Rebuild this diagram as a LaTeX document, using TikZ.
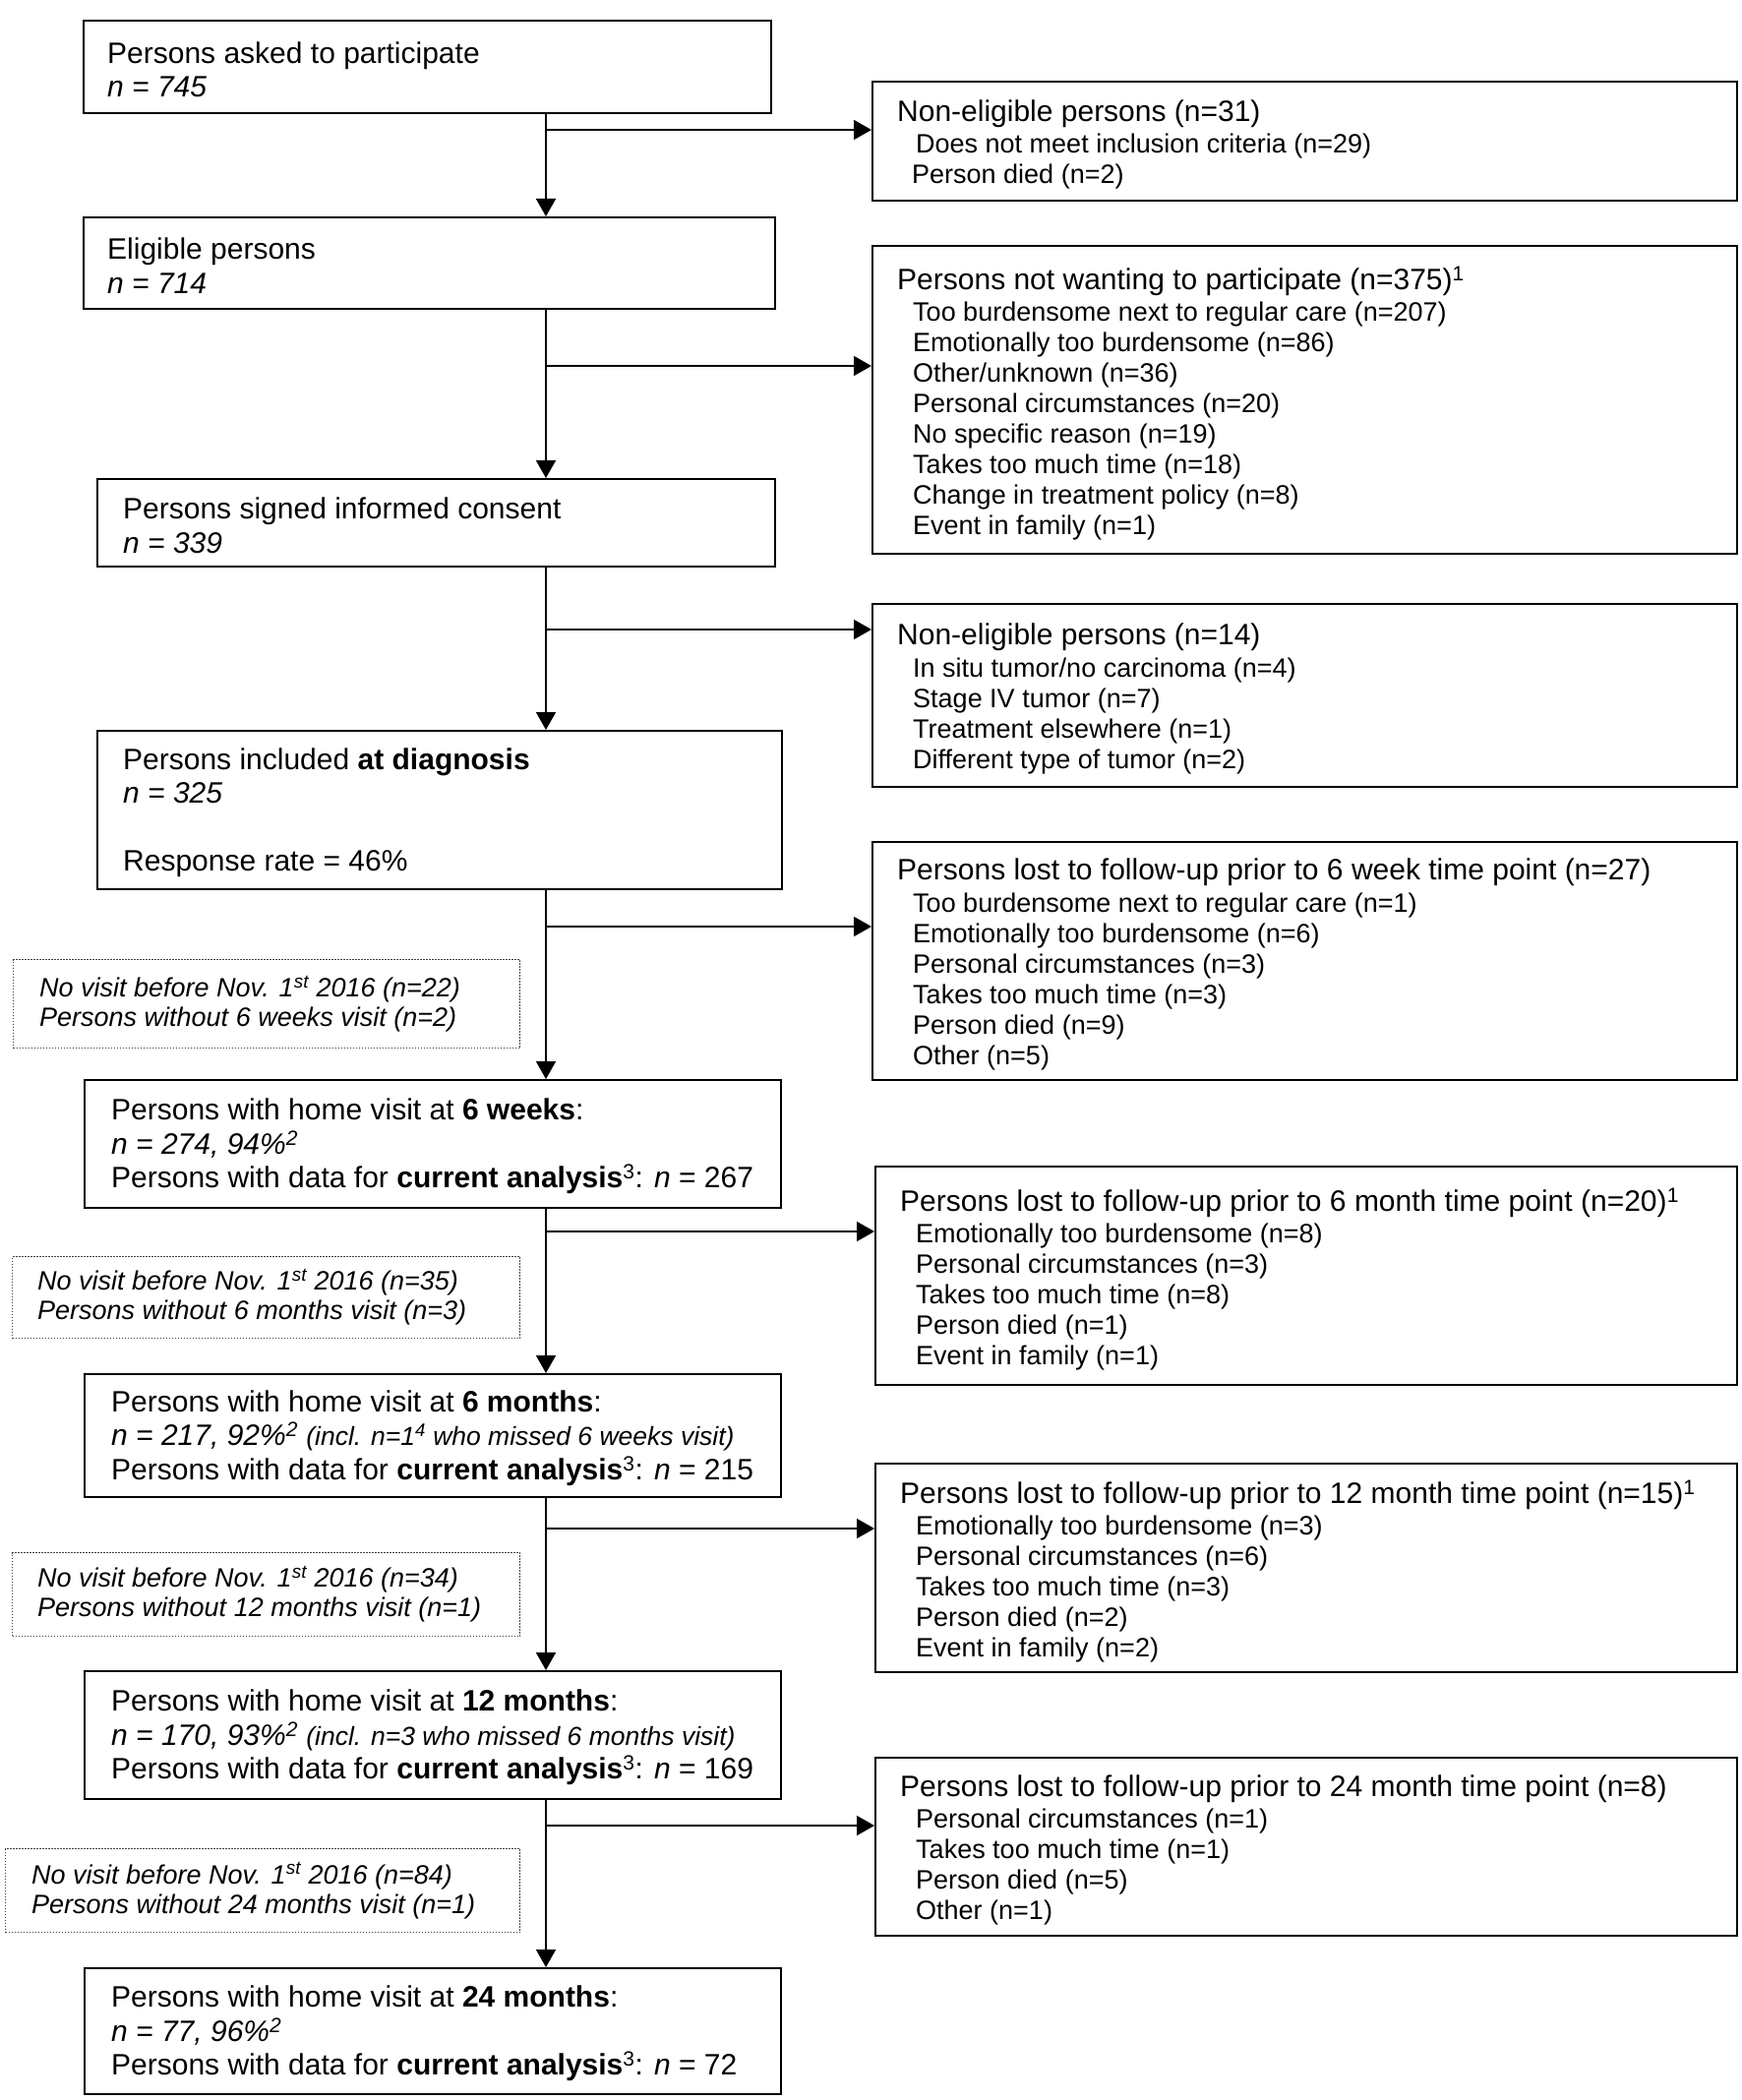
\documentclass[tikz,border=0pt]{standalone}
\usepackage{fontspec}
\setmainfont{Liberation Sans}
\usetikzlibrary{arrows.meta,calc}
\begin{document}
\begin{tikzpicture}[x=1pt,y=-1pt,
 lbox/.style={draw, line width=2.2pt, inner sep=0pt, anchor=north west},
 rbox/.style={draw, line width=1.9pt, inner sep=0pt, anchor=north west},
 dbox/.style={draw=black!75, line width=1.3pt, dash pattern=on 1.6pt off 1.4pt, inner sep=0pt, anchor=north west},
 ltext/.style={anchor=west, align=left, inner sep=0pt, yshift=-2.5pt, font=\fontsize{30}{34.5}\selectfont},
 rtext/.style={anchor=west, align=left, inner sep=0pt, yshift=-3.5pt, font=\fontsize{27}{31}\selectfont},
 dtext/.style={anchor=west, align=left, inner sep=0pt, font=\fontsize{27}{30}\selectfont\itshape},
 arr/.style={-{Triangle[length=18pt,width=20pt]}, line width=1.6pt},
]
\useasboundingbox (0,0) rectangle (1770,2135);
\newcommand{\hd}[1]{{\fontsize{30}{31}\selectfont #1}\\[1.5pt]}
\newcommand{\ind}{\hspace*{16pt}}
\newcommand{\incl}[1]{{\fontsize{26.5}{26.5}\selectfont #1}}

% ---------- left column ----------
\node[lbox, minimum width=699pt, minimum height=94pt] (L1) at (84,20) {};
\node[ltext] (L1t) at ([xshift=25pt]L1.west) {Persons asked to participate\\\textit{n = 745}};

\node[lbox, minimum width=703pt, minimum height=93pt] (L2) at (84,220) {};
\node[ltext] (L2t) at ([xshift=25pt]L2.west) {Eligible persons\\\textit{n = 714}};

\node[lbox, minimum width=689pt, minimum height=89pt] (L3) at (98,486) {};
\node[ltext] (L3t) at ([xshift=27pt]L3.west) {Persons signed informed consent\\\textit{n = 339}};

\node[lbox, minimum width=696pt, minimum height=161pt] (L4) at (98,742) {};
\node[ltext] (L4t) at ([xshift=27pt]L4.west) {Persons included \textbf{at diagnosis}\\\textit{n = 325}\\[34.5pt]Response rate = 46\%};

\node[lbox, minimum width=708pt, minimum height=130pt] (L5) at (85,1097) {};
\node[ltext] (L5t) at ([xshift=28pt]L5.west) {Persons with home visit at \textbf{6 weeks}:\\\textit{n = 274, 94\%\textsuperscript{2}}\\Persons with data for \textbf{current analysis}\textsuperscript{3}: \textit{n} = 267};

\node[lbox, minimum width=708pt, minimum height=125pt] (L6) at (85,1396) {};
\node[ltext] (L6t) at ([xshift=28pt]L6.west) {Persons with home visit at \textbf{6 months}:\\\textit{n = 217, 92\%\textsuperscript{2} \incl{(incl. n=1\textsuperscript{4} who missed 6 weeks visit)}}\\Persons with data for \textbf{current analysis}\textsuperscript{3}: \textit{n} = 215};

\node[lbox, minimum width=708pt, minimum height=130pt] (L7) at (85,1698) {};
\node[ltext] (L7t) at ([xshift=28pt]L7.west) {Persons with home visit at \textbf{12 months}:\\\textit{n = 170, 93\%\textsuperscript{2} \incl{(incl. n=3 who missed 6 months visit)}}\\Persons with data for \textbf{current analysis}\textsuperscript{3}: \textit{n} = 169};

\node[lbox, minimum width=708pt, minimum height=128pt] (L8) at (85,2000) {};
\node[ltext] (L8t) at ([xshift=28pt]L8.west) {Persons with home visit at \textbf{24 months}:\\\textit{n = 77, 96\%\textsuperscript{2}}\\Persons with data for \textbf{current analysis}\textsuperscript{3}: \textit{n} = 72};

% ---------- dotted boxes ----------
\node[dbox, minimum width=515pt, minimum height=90pt] (D1) at (13,975) {};
\node[dtext] (D1t) at ([xshift=27pt]D1.west) {No visit before Nov. 1\textsuperscript{st} 2016 (n=22)\\Persons without 6 weeks visit (n=2)};

\node[dbox, minimum width=516pt, minimum height=83pt] (D2) at (12,1277) {};
\node[dtext] (D2t) at ([xshift=26pt]D2.west) {No visit before Nov. 1\textsuperscript{st} 2016 (n=35)\\Persons without 6 months visit (n=3)};

\node[dbox, minimum width=516pt, minimum height=85pt] (D3) at (12,1578) {};
\node[dtext] (D3t) at ([xshift=26pt]D3.west) {No visit before Nov. 1\textsuperscript{st} 2016 (n=34)\\Persons without 12 months visit (n=1)};

\node[dbox, minimum width=523pt, minimum height=85pt] (D4) at (5,1879) {};
\node[dtext] (D4t) at ([xshift=27pt]D4.west) {No visit before Nov. 1\textsuperscript{st} 2016 (n=84)\\Persons without 24 months visit (n=1)};

% ---------- right column ----------
\node[rbox, minimum width=879pt, minimum height=121pt] (R1) at (886,82) {};
\node[rtext] (R1t) at ([xshift=26pt]R1.west) {\hd{Non-eligible persons (n=31)}\hspace*{19pt}Does not meet inclusion criteria (n=29)\\\hspace*{15pt}Person died (n=2)};

\node[rbox, minimum width=879pt, minimum height=313pt] (R2) at (886,249) {};
\node[rtext] (R2t) at ([xshift=26pt]R2.west) {\hd{Persons not wanting to participate (n=375)\textsuperscript{1}}\ind Too burdensome next to regular care (n=207)\\\ind Emotionally too burdensome (n=86)\\\ind Other/unknown (n=36)\\\ind Personal circumstances (n=20)\\\ind No specific reason (n=19)\\\ind Takes too much time (n=18)\\\ind Change in treatment policy (n=8)\\\ind Event in family (n=1)};

\node[rbox, minimum width=879pt, minimum height=186pt] (R3) at (886,613) {};
\node[rtext] (R3t) at ([xshift=26pt]R3.west) {\hd{Non-eligible persons (n=14)}\ind In situ tumor/no carcinoma (n=4)\\\ind Stage IV tumor (n=7)\\\ind Treatment elsewhere (n=1)\\\ind Different type of tumor (n=2)};

\node[rbox, minimum width=879pt, minimum height=242pt] (R4) at (886,855) {};
\node[rtext] (R4t) at ([xshift=26pt]R4.west) {\hd{Persons lost to follow-up prior to 6 week time point (n=27)}\ind Too burdensome next to regular care (n=1)\\\ind Emotionally too burdensome (n=6)\\\ind Personal circumstances (n=3)\\\ind Takes too much time (n=3)\\\ind Person died (n=9)\\\ind Other (n=5)};

\node[rbox, minimum width=876pt, minimum height=222pt] (R5) at (889,1185) {};
\node[rtext] (R5t) at ([xshift=26pt]R5.west) {\hd{Persons lost to follow-up prior to 6 month time point (n=20)\textsuperscript{1}}\ind Emotionally too burdensome (n=8)\\\ind Personal circumstances (n=3)\\\ind Takes too much time (n=8)\\\ind Person died (n=1)\\\ind Event in family (n=1)};

\node[rbox, minimum width=876pt, minimum height=212pt] (R6) at (889,1487) {};
\node[rtext] (R6t) at ([xshift=26pt]R6.west) {\hd{Persons lost to follow-up prior to 12 month time point (n=15)\textsuperscript{1}}\ind Emotionally too burdensome (n=3)\\\ind Personal circumstances (n=6)\\\ind Takes too much time (n=3)\\\ind Person died (n=2)\\\ind Event in family (n=2)};

\node[rbox, minimum width=876pt, minimum height=181pt] (R7) at (889,1786) {};
\node[rtext] (R7t) at ([xshift=26pt]R7.west) {\hd{Persons lost to follow-up prior to 24 month time point (n=8)}\ind Personal circumstances (n=1)\\\ind Takes too much time (n=1)\\\ind Person died (n=5)\\\ind Other (n=1)};

% ---------- connectors ----------
\coordinate (sp) at (555,0);
\draw[arr] (L1.south -| sp) -- (L2.north -| sp);
\draw[arr] (L2.south -| sp) -- (L3.north -| sp);
\draw[arr] (L3.south -| sp) -- (L4.north -| sp);
\draw[arr] (L4.south -| sp) -- (L5.north -| sp);
\draw[arr] (L5.south -| sp) -- (L6.north -| sp);
\draw[arr] (L6.south -| sp) -- (L7.north -| sp);
\draw[arr] (L7.south -| sp) -- (L8.north -| sp);

\coordinate (j1) at (555,132);
\coordinate (j2) at (555,372);
\coordinate (j3) at (555,640);
\coordinate (j4) at (555,942);
\coordinate (j5) at (555,1252);
\coordinate (j6) at (555,1554);
\coordinate (j7) at (555,1856);
\draw[arr] (j1) -- (R1.west |- j1);
\draw[arr] (j2) -- (R2.west |- j2);
\draw[arr] (j3) -- (R3.west |- j3);
\draw[arr] (j4) -- (R4.west |- j4);
\draw[arr] (j5) -- (R5.west |- j5);
\draw[arr] (j6) -- (R6.west |- j6);
\draw[arr] (j7) -- (R7.west |- j7);
\end{tikzpicture}
\end{document}
